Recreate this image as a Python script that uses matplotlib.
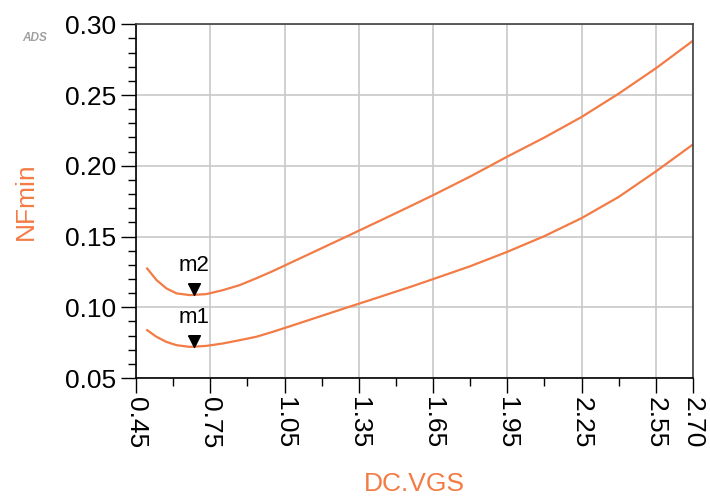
import matplotlib
matplotlib.use("Agg")
import matplotlib.pyplot as plt
from matplotlib.ticker import FixedLocator, MultipleLocator, FormatStrFormatter

plt.rcParams['font.family'] = ['Liberation Sans', 'DejaVu Sans']

# DC.VGS sweep values
vgs = [0.495, 0.533, 0.573, 0.614, 0.667, 0.734, 0.801, 0.868, 0.935, 1.002,
       1.069, 1.163, 1.297, 1.35, 1.431, 1.565, 1.65, 1.80, 1.95,
       2.10, 2.25, 2.40, 2.55, 2.70]

# NFmin, upper curve (m2)
nf_upper = [0.1274, 0.1192, 0.1133, 0.1098, 0.1086, 0.1093, 0.1121, 0.1156, 0.1204, 0.1255,
            0.1310, 0.1387, 0.1497, 0.1541, 0.1608, 0.1720, 0.1792, 0.1924, 0.2065,
            0.2200, 0.2345, 0.2510, 0.2689, 0.2884]

# NFmin, lower curve (m1)
nf_lower = [0.0838, 0.0791, 0.0755, 0.0732, 0.0720, 0.0727, 0.0744, 0.0767, 0.0791, 0.0826,
            0.0864, 0.0918, 0.0995, 0.1025, 0.1071, 0.1148, 0.1199, 0.1290, 0.1392,
            0.1503, 0.1630, 0.1780, 0.1960, 0.2151]

# markers
marker_names = ['m1', 'm2']
marker_x = [0.683, 0.683]
marker_y = [0.0721, 0.1087]

x_ticks = [0.45, 0.75, 1.05, 1.35, 1.65, 1.95, 2.25, 2.55, 2.70]
y_ticks = [0.05, 0.10, 0.15, 0.20, 0.25, 0.30]

orange = '#f37b45'

fig = plt.figure(figsize=(7.1, 4.99), dpi=100)
ax = fig.add_axes([136 / 710, 1 - 378 / 499, 557 / 710, 353.7 / 499])

ax.plot(vgs, nf_upper, color=orange, lw=1.6)
ax.plot(vgs, nf_lower, color=orange, lw=1.6)

# triangle with its tip on the point
tri = [(-0.5, 1.0), (0.5, 1.0), (0.0, 0.0), (-0.5, 1.0)]
for name, mx, my in zip(marker_names, marker_x, marker_y):
    ax.plot(mx, my, marker=tri, markersize=17, color='black', linestyle='none')
    ax.annotate(name, (mx, my), xytext=(0, 13.5), textcoords='offset points',
                ha='center', va='bottom', fontsize=16)

ax.set_xlim(0.45, 2.70)
ax.set_ylim(0.05, 0.30)
ax.xaxis.set_major_locator(FixedLocator(x_ticks))
ax.xaxis.set_minor_locator(FixedLocator([0.60, 0.90, 1.20, 1.50, 1.80, 2.10, 2.40]))
ax.yaxis.set_major_locator(FixedLocator(y_ticks))
ax.yaxis.set_minor_locator(MultipleLocator(0.01))
ax.xaxis.set_major_formatter(FormatStrFormatter('%.2f'))
ax.yaxis.set_major_formatter(FormatStrFormatter('%.2f'))

ax.tick_params(which='major', length=11, width=1, labelsize=19, color='black')
ax.tick_params(which='minor', length=5.5, width=1, color='black')
ax.tick_params(axis='x', which='major', pad=3, labelrotation=-90)
ax.tick_params(axis='y', which='major', pad=3)

ax.grid(True, which='major', color='#c8c8c8', lw=1.2)
ax.set_axisbelow(True)

for s in ['left', 'bottom']:
    ax.spines[s].set_color('black')
    ax.spines[s].set_linewidth(1.2)
for s in ['top', 'right']:
    ax.spines[s].set_color('#404040')
    ax.spines[s].set_linewidth(1.2)

ax.set_xlabel('DC.VGS', color=orange, fontsize=19)
ax.xaxis.set_label_coords(0.5, -0.30)
ax.xaxis.label.set_va('center')
ax.set_ylabel('NFmin', color=orange, fontsize=19)
ax.yaxis.set_label_coords(-0.197, 0.5)
ax.yaxis.label.set_va('center')

fig.text(0.031, 1 - 38 / 499, 'ADS', fontsize=8.5, color='#a0a0a0',
         fontweight='bold', fontstyle='italic', ha='left', va='center')

fig.savefig('out.png', dpi=100)
